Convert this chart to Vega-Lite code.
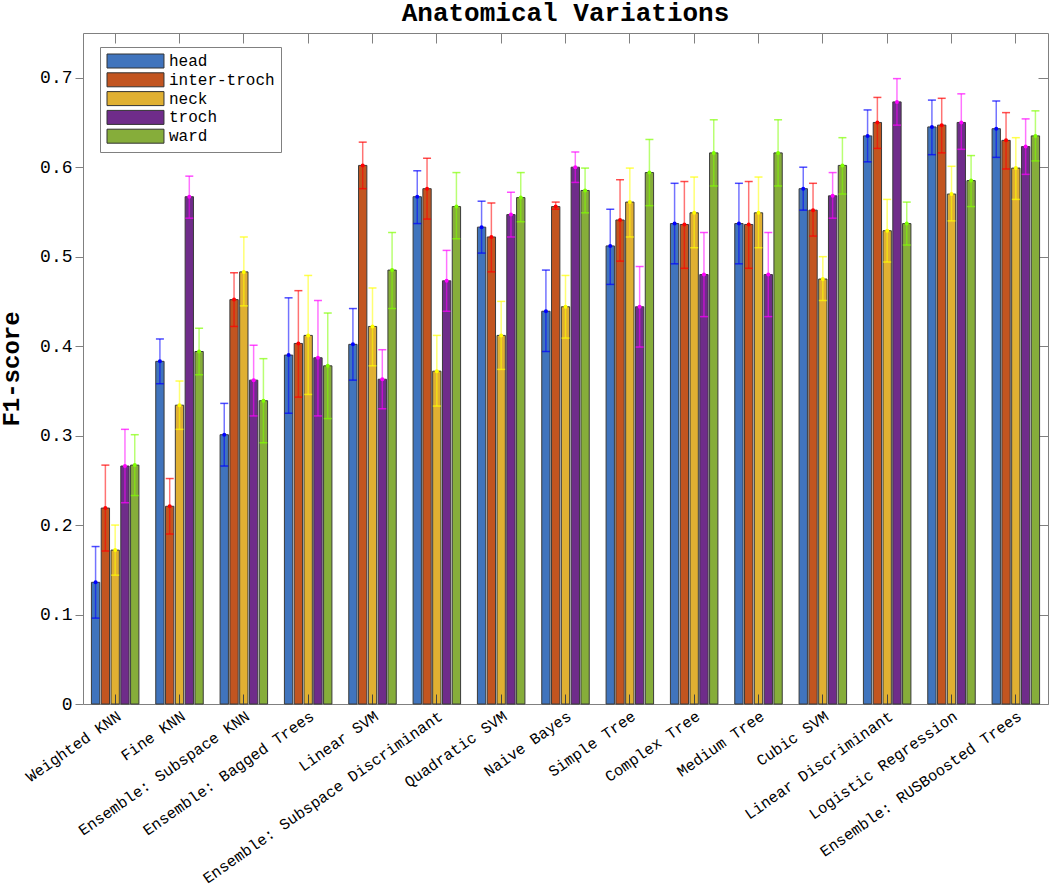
{
  "$schema": "https://vega.github.io/schema/vega-lite/v6.json",
  "autosize": "none",
  "width": 965,
  "height": 671,
  "padding": {"left": 83, "top": 33, "right": 2, "bottom": 184},
  "background": "white",
  "config": {
    "view": {"stroke": "#808080", "strokeWidth": 1},
    "font": "Courier New, Liberation Mono, monospace"
  },
  "title": {"text": "Anatomical Variations", "fontSize": 26, "font": "Courier New, Liberation Mono, monospace", "fontWeight": "bold", "anchor": "middle", "offset": 7, "color": "black"},
  "data": {"values": [
    {"m": "Weighted KNN", "p": "head", "v": 0.136, "lo": 0.096, "hi": 0.176},
    {"m": "Weighted KNN", "p": "inter-troch", "v": 0.219, "lo": 0.171, "hi": 0.267},
    {"m": "Weighted KNN", "p": "neck", "v": 0.172, "lo": 0.144, "hi": 0.200},
    {"m": "Weighted KNN", "p": "troch", "v": 0.266, "lo": 0.225, "hi": 0.307},
    {"m": "Weighted KNN", "p": "ward", "v": 0.267, "lo": 0.233, "hi": 0.301},
    {"m": "Fine KNN", "p": "head", "v": 0.383, "lo": 0.358, "hi": 0.408},
    {"m": "Fine KNN", "p": "inter-troch", "v": 0.221, "lo": 0.190, "hi": 0.252},
    {"m": "Fine KNN", "p": "neck", "v": 0.334, "lo": 0.307, "hi": 0.361},
    {"m": "Fine KNN", "p": "troch", "v": 0.567, "lo": 0.543, "hi": 0.590},
    {"m": "Fine KNN", "p": "ward", "v": 0.394, "lo": 0.368, "hi": 0.420},
    {"m": "Ensemble: Subspace KNN", "p": "head", "v": 0.301, "lo": 0.266, "hi": 0.336},
    {"m": "Ensemble: Subspace KNN", "p": "inter-troch", "v": 0.452, "lo": 0.422, "hi": 0.482},
    {"m": "Ensemble: Subspace KNN", "p": "neck", "v": 0.483, "lo": 0.445, "hi": 0.522},
    {"m": "Ensemble: Subspace KNN", "p": "troch", "v": 0.362, "lo": 0.322, "hi": 0.401},
    {"m": "Ensemble: Subspace KNN", "p": "ward", "v": 0.339, "lo": 0.292, "hi": 0.386},
    {"m": "Ensemble: Bagged Trees", "p": "head", "v": 0.390, "lo": 0.325, "hi": 0.454},
    {"m": "Ensemble: Bagged Trees", "p": "inter-troch", "v": 0.403, "lo": 0.343, "hi": 0.462},
    {"m": "Ensemble: Bagged Trees", "p": "neck", "v": 0.412, "lo": 0.346, "hi": 0.479},
    {"m": "Ensemble: Bagged Trees", "p": "troch", "v": 0.387, "lo": 0.322, "hi": 0.451},
    {"m": "Ensemble: Bagged Trees", "p": "ward", "v": 0.378, "lo": 0.319, "hi": 0.437},
    {"m": "Linear SVM", "p": "head", "v": 0.402, "lo": 0.362, "hi": 0.442},
    {"m": "Linear SVM", "p": "inter-troch", "v": 0.602, "lo": 0.576, "hi": 0.628},
    {"m": "Linear SVM", "p": "neck", "v": 0.422, "lo": 0.378, "hi": 0.465},
    {"m": "Linear SVM", "p": "troch", "v": 0.363, "lo": 0.330, "hi": 0.396},
    {"m": "Linear SVM", "p": "ward", "v": 0.485, "lo": 0.442, "hi": 0.527},
    {"m": "Ensemble: Subspace Discriminant", "p": "head", "v": 0.567, "lo": 0.537, "hi": 0.596},
    {"m": "Ensemble: Subspace Discriminant", "p": "inter-troch", "v": 0.576, "lo": 0.542, "hi": 0.610},
    {"m": "Ensemble: Subspace Discriminant", "p": "neck", "v": 0.372, "lo": 0.333, "hi": 0.412},
    {"m": "Ensemble: Subspace Discriminant", "p": "troch", "v": 0.473, "lo": 0.439, "hi": 0.507},
    {"m": "Ensemble: Subspace Discriminant", "p": "ward", "v": 0.556, "lo": 0.520, "hi": 0.594},
    {"m": "Quadratic SVM", "p": "head", "v": 0.533, "lo": 0.504, "hi": 0.562},
    {"m": "Quadratic SVM", "p": "inter-troch", "v": 0.522, "lo": 0.483, "hi": 0.560},
    {"m": "Quadratic SVM", "p": "neck", "v": 0.412, "lo": 0.374, "hi": 0.450},
    {"m": "Quadratic SVM", "p": "troch", "v": 0.547, "lo": 0.522, "hi": 0.572},
    {"m": "Quadratic SVM", "p": "ward", "v": 0.566, "lo": 0.539, "hi": 0.594},
    {"m": "Naive Bayes", "p": "head", "v": 0.439, "lo": 0.394, "hi": 0.485},
    {"m": "Naive Bayes", "p": "inter-troch", "v": 0.556, "lo": 0.553, "hi": 0.561},
    {"m": "Naive Bayes", "p": "neck", "v": 0.444, "lo": 0.409, "hi": 0.479},
    {"m": "Naive Bayes", "p": "troch", "v": 0.600, "lo": 0.583, "hi": 0.617},
    {"m": "Naive Bayes", "p": "ward", "v": 0.574, "lo": 0.549, "hi": 0.599},
    {"m": "Simple Tree", "p": "head", "v": 0.512, "lo": 0.469, "hi": 0.553},
    {"m": "Simple Tree", "p": "inter-troch", "v": 0.541, "lo": 0.495, "hi": 0.586},
    {"m": "Simple Tree", "p": "neck", "v": 0.561, "lo": 0.522, "hi": 0.599},
    {"m": "Simple Tree", "p": "troch", "v": 0.444, "lo": 0.399, "hi": 0.489},
    {"m": "Simple Tree", "p": "ward", "v": 0.594, "lo": 0.557, "hi": 0.631},
    {"m": "Complex Tree", "p": "head", "v": 0.537, "lo": 0.492, "hi": 0.582},
    {"m": "Complex Tree", "p": "inter-troch", "v": 0.536, "lo": 0.487, "hi": 0.584},
    {"m": "Complex Tree", "p": "neck", "v": 0.549, "lo": 0.510, "hi": 0.589},
    {"m": "Complex Tree", "p": "troch", "v": 0.480, "lo": 0.433, "hi": 0.527},
    {"m": "Complex Tree", "p": "ward", "v": 0.616, "lo": 0.579, "hi": 0.653},
    {"m": "Medium Tree", "p": "head", "v": 0.537, "lo": 0.492, "hi": 0.582},
    {"m": "Medium Tree", "p": "inter-troch", "v": 0.536, "lo": 0.487, "hi": 0.584},
    {"m": "Medium Tree", "p": "neck", "v": 0.549, "lo": 0.510, "hi": 0.589},
    {"m": "Medium Tree", "p": "troch", "v": 0.480, "lo": 0.433, "hi": 0.527},
    {"m": "Medium Tree", "p": "ward", "v": 0.616, "lo": 0.579, "hi": 0.653},
    {"m": "Cubic SVM", "p": "head", "v": 0.576, "lo": 0.552, "hi": 0.600},
    {"m": "Cubic SVM", "p": "inter-troch", "v": 0.552, "lo": 0.523, "hi": 0.582},
    {"m": "Cubic SVM", "p": "neck", "v": 0.475, "lo": 0.451, "hi": 0.500},
    {"m": "Cubic SVM", "p": "troch", "v": 0.568, "lo": 0.543, "hi": 0.594},
    {"m": "Cubic SVM", "p": "ward", "v": 0.602, "lo": 0.570, "hi": 0.633},
    {"m": "Linear Discriminant", "p": "head", "v": 0.635, "lo": 0.606, "hi": 0.664},
    {"m": "Linear Discriminant", "p": "inter-troch", "v": 0.650, "lo": 0.621, "hi": 0.678},
    {"m": "Linear Discriminant", "p": "neck", "v": 0.529, "lo": 0.494, "hi": 0.564},
    {"m": "Linear Discriminant", "p": "troch", "v": 0.673, "lo": 0.647, "hi": 0.699},
    {"m": "Linear Discriminant", "p": "ward", "v": 0.537, "lo": 0.513, "hi": 0.561},
    {"m": "Logistic Regression", "p": "head", "v": 0.645, "lo": 0.614, "hi": 0.675},
    {"m": "Logistic Regression", "p": "inter-troch", "v": 0.647, "lo": 0.616, "hi": 0.677},
    {"m": "Logistic Regression", "p": "neck", "v": 0.570, "lo": 0.540, "hi": 0.601},
    {"m": "Logistic Regression", "p": "troch", "v": 0.650, "lo": 0.620, "hi": 0.682},
    {"m": "Logistic Regression", "p": "ward", "v": 0.585, "lo": 0.556, "hi": 0.613},
    {"m": "Ensemble: RUSBoosted Trees", "p": "head", "v": 0.643, "lo": 0.611, "hi": 0.674},
    {"m": "Ensemble: RUSBoosted Trees", "p": "inter-troch", "v": 0.630, "lo": 0.598, "hi": 0.661},
    {"m": "Ensemble: RUSBoosted Trees", "p": "neck", "v": 0.599, "lo": 0.564, "hi": 0.633},
    {"m": "Ensemble: RUSBoosted Trees", "p": "troch", "v": 0.623, "lo": 0.592, "hi": 0.654},
    {"m": "Ensemble: RUSBoosted Trees", "p": "ward", "v": 0.635, "lo": 0.607, "hi": 0.663}
  ]},
  "layer": [
    {
      "mark": {"type": "bar", "stroke": "#3a3a3a", "strokeWidth": 1},
      "encoding": {
        "x": {"field": "m", "type": "nominal", "sort": ["Weighted KNN", "Fine KNN", "Ensemble: Subspace KNN", "Ensemble: Bagged Trees", "Linear SVM", "Ensemble: Subspace Discriminant", "Quadratic SVM", "Naive Bayes", "Simple Tree", "Complex Tree", "Medium Tree", "Cubic SVM", "Linear Discriminant", "Logistic Regression", "Ensemble: RUSBoosted Trees"],
          "scale": {"paddingInner": 0, "paddingOuter": 0},
          "axis": {"orient": "bottom", "title": null, "domain": false, "tickSize": -10, "tickColor": "#444", "tickWidth": 1, "labelAngle": -35, "labelAlign": "right", "labelBaseline": "middle", "labelFontSize": 15.5, "labelColor": "black", "labelPadding": 20, "labelOffset": 4, "labelLimit": 500, "zindex": 1}},
        "xOffset": {"field": "p", "type": "nominal", "sort": ["head", "inter-troch", "neck", "troch", "ward"], "scale": {"paddingInner": 0.15, "paddingOuter": 0.86}},
        "y": {"field": "v", "type": "quantitative", "scale": {"domain": [0, 0.75], "nice": false, "zero": true},
          "axis": {"orient": "left", "values": [0, 0.1, 0.2, 0.3, 0.4, 0.5, 0.6, 0.7], "labelExpr": "datum.value == 0 ? '0' : format(datum.value, '.1f')", "grid": false, "domain": false, "tickSize": 8, "tickColor": "#808080", "labelFontSize": 18, "labelColor": "black", "labelPadding": 3, "title": "F1-score", "titleFontSize": 24, "titleFontWeight": "bold", "titleColor": "black", "titleAngle": -90, "titleAlign": "center", "titleBaseline": "alphabetic", "titleX": -65, "titleY": 335.5}},
        "color": {"field": "p", "type": "nominal", "sort": ["head", "inter-troch", "neck", "troch", "ward"],
          "scale": {"domain": ["head", "inter-troch", "neck", "troch", "ward"], "range": ["#4074bd", "#c25520", "#e0b032", "#6f2c8a", "#86ad3a"]},
          "legend": {"orient": "none", "legendX": 17, "legendY": 14, "title": null, "labelFontSize": 16, "labelColor": "black", "symbolType": "M-1,-1H7.14V1H-1Z", "symbolSize": 196, "symbolStrokeColor": "#333", "symbolStrokeWidth": 1, "symbolOpacity": 1, "labelOffset": 47, "rowPadding": 0.8, "padding": 6, "strokeColor": "#808080", "fillColor": "white"}}
      }
    },
    {
      "mark": {"type": "rule", "strokeWidth": 1.5, "opacity": 0.55},
      "encoding": {
        "x": {"field": "m", "type": "nominal", "sort": ["Weighted KNN", "Fine KNN", "Ensemble: Subspace KNN", "Ensemble: Bagged Trees", "Linear SVM", "Ensemble: Subspace Discriminant", "Quadratic SVM", "Naive Bayes", "Simple Tree", "Complex Tree", "Medium Tree", "Cubic SVM", "Linear Discriminant", "Logistic Regression", "Ensemble: RUSBoosted Trees"],
          "axis": {"orient": "top", "title": null, "labels": false, "domain": false, "tickSize": -10, "tickColor": "#808080"}},
        "xOffset": {"field": "p", "type": "nominal", "sort": ["head", "inter-troch", "neck", "troch", "ward"]},
        "y": {"field": "lo", "type": "quantitative",
          "axis": {"orient": "right", "title": null, "labels": false, "domain": false, "grid": false, "values": [0, 0.1, 0.2, 0.3, 0.4, 0.5, 0.6, 0.7], "tickSize": -10, "tickColor": "#808080"}},
        "y2": {"field": "hi"},
        "color": {"field": "p", "type": "nominal", "scale": {"domain": ["head", "inter-troch", "neck", "troch", "ward"], "range": ["#0000ff", "#ff0000", "#ffff00", "#ff00ff", "#80ff00"]}, "legend": null}
      }
    },
    {
      "mark": {"type": "tick", "thickness": 1.5, "size": 8, "opacity": 0.7},
      "encoding": {
        "x": {"field": "m", "type": "nominal", "sort": ["Weighted KNN", "Fine KNN", "Ensemble: Subspace KNN", "Ensemble: Bagged Trees", "Linear SVM", "Ensemble: Subspace Discriminant", "Quadratic SVM", "Naive Bayes", "Simple Tree", "Complex Tree", "Medium Tree", "Cubic SVM", "Linear Discriminant", "Logistic Regression", "Ensemble: RUSBoosted Trees"], "axis": null},
        "xOffset": {"field": "p", "type": "nominal", "sort": ["head", "inter-troch", "neck", "troch", "ward"]},
        "y": {"field": "lo", "type": "quantitative", "axis": null},
        "color": {"field": "p", "type": "nominal", "scale": {"domain": ["head", "inter-troch", "neck", "troch", "ward"], "range": ["#0000ff", "#ff0000", "#ffff00", "#ff00ff", "#80ff00"]}, "legend": null}
      }
    },
    {
      "mark": {"type": "tick", "thickness": 1.5, "size": 8, "opacity": 0.7},
      "encoding": {
        "x": {"field": "m", "type": "nominal", "sort": ["Weighted KNN", "Fine KNN", "Ensemble: Subspace KNN", "Ensemble: Bagged Trees", "Linear SVM", "Ensemble: Subspace Discriminant", "Quadratic SVM", "Naive Bayes", "Simple Tree", "Complex Tree", "Medium Tree", "Cubic SVM", "Linear Discriminant", "Logistic Regression", "Ensemble: RUSBoosted Trees"], "axis": null},
        "xOffset": {"field": "p", "type": "nominal", "sort": ["head", "inter-troch", "neck", "troch", "ward"]},
        "y": {"field": "hi", "type": "quantitative", "axis": null},
        "color": {"field": "p", "type": "nominal", "scale": {"domain": ["head", "inter-troch", "neck", "troch", "ward"], "range": ["#0000ff", "#ff0000", "#ffff00", "#ff00ff", "#80ff00"]}, "legend": null}
      }
    },
    {
      "mark": {"type": "point", "filled": true, "size": 16, "opacity": 1},
      "encoding": {
        "x": {"field": "m", "type": "nominal", "sort": ["Weighted KNN", "Fine KNN", "Ensemble: Subspace KNN", "Ensemble: Bagged Trees", "Linear SVM", "Ensemble: Subspace Discriminant", "Quadratic SVM", "Naive Bayes", "Simple Tree", "Complex Tree", "Medium Tree", "Cubic SVM", "Linear Discriminant", "Logistic Regression", "Ensemble: RUSBoosted Trees"], "axis": null},
        "xOffset": {"field": "p", "type": "nominal", "sort": ["head", "inter-troch", "neck", "troch", "ward"]},
        "y": {"field": "v", "type": "quantitative", "axis": null},
        "color": {"field": "p", "type": "nominal", "scale": {"domain": ["head", "inter-troch", "neck", "troch", "ward"], "range": ["#0000ff", "#ff0000", "#ffff00", "#ff00ff", "#80ff00"]}, "legend": null}
      }
    }
  ],
  "resolve": {"scale": {"color": "independent"}, "axis": {"x": "independent", "y": "independent"}}
}
